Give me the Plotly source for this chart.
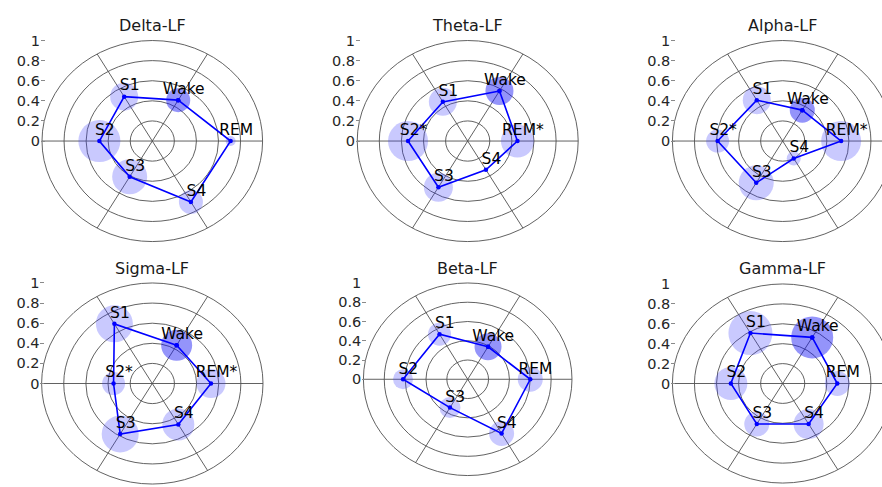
import numpy as np
import plotly.graph_objects as go

# ---------------- data ----------------
bands = ["Delta-LF", "Theta-LF", "Alpha-LF", "Sigma-LF", "Beta-LF", "Gamma-LF"]
stages = ["Wake", "REM", "S4", "S3", "S2", "S1"]
stage_angle_deg = [60, 0, -60, -120, 180, 120]

labels_delta = ["Wake", "REM", "S4", "S3", "S2", "S1"]
labels_theta = ["Wake", "REM*", "S4", "S3", "S2*", "S1"]
labels_alpha = ["Wake", "REM*", "S4", "S3", "S2*", "S1"]
labels_sigma = ["Wake", "REM*", "S4", "S3", "S2*", "S1"]
labels_beta = ["Wake", "REM", "S4", "S3", "S2", "S1"]
labels_gamma = ["Wake", "REM", "S4", "S3", "S2", "S1"]

# normalised radial value per stage (Wake, REM, S4, S3, S2, S1)
r_delta = [0.47, 0.71, 0.70, 0.41, 0.48, 0.51]
r_theta = [0.575, 0.45, 0.33, 0.53, 0.54, 0.45]
r_alpha = [0.355, 0.53, 0.20, 0.48, 0.59, 0.47]
r_sigma = [0.44, 0.53, 0.47, 0.58, 0.35, 0.685]
r_beta = [0.39, 0.60, 0.65, 0.34, 0.62, 0.54]
r_gamma = [0.535, 0.495, 0.47, 0.47, 0.47, 0.585]

# bubble diameter (px) per stage
bub_delta = [24, 10, 24, 35, 42, 28]
bub_theta = [28, 33, 0, 29, 40, 28]
bub_alpha = [25, 40, 14, 35, 23, 28]
bub_sigma = [31, 29, 32, 37, 23, 37]
bub_beta = [27, 25, 25, 21, 20, 23]
bub_gamma = [42, 25, 30, 25, 33, 44]

radii = [r_delta, r_theta, r_alpha, r_sigma, r_beta, r_gamma]
bubbles = [bub_delta, bub_theta, bub_alpha, bub_sigma, bub_beta, bub_gamma]
labels = [labels_delta, labels_theta, labels_alpha, labels_sigma, labels_beta, labels_gamma]

ytick_vals = [0, 0.2, 0.4, 0.6, 0.8, 1]
ytick_text = ["0", "0.2", "0.4", "0.6", "0.8", "1"]
ring_vals = [0.2, 0.4, 0.6, 0.8, 1.0]
spoke_deg = [0, 60, 120]

# ---------------- layout geometry (pixels) ----------------
W, H = 882, 487
# centre x, centre y, px per unit (x), px per unit (y)
geo = [
    (152.3, 136.0, 110.3, 102.0),
    (467.7, 136.0, 110.5, 102.0),
    (782.7, 136.0, 110.3, 102.0),
    (152.3, 382.0, 110.7, 102.0),
    (467.7, 377.7, 104.3, 97.7),
    (782.7, 382.0, 110.3, 101.0),
]
title_y_px = [19, 19, 19, 265, 265, 265]

FONT = "DejaVu Sans"
light = "rgba(60,60,250,0.40)"
dark = "rgba(20,20,245,0.65)"

fig = go.Figure()
shapes = []
annotations = []
ang = np.deg2rad(stage_angle_deg)

for i in range(6):
    cx, cy, ax_, ay_ = geo[i]
    pad = 1.01
    xr1 = min(pad, (W - cx) / ax_)
    xr = [-pad, xr1]
    yr = [-pad, pad]
    xd = [(cx - pad * ax_) / W, min(1.0, (cx + xr1 * ax_) / W)]
    yd = [1 - (cy + pad * ay_) / H, 1 - (cy - pad * ay_) / H]
    sfx = "" if i == 0 else str(i + 1)
    xa, ya = "x" + sfx, "y" + sfx

    fig.layout["xaxis" + sfx] = dict(domain=xd, range=xr, visible=False,
                                     showgrid=False, zeroline=False, fixedrange=True,
                                     anchor=ya)
    fig.layout["yaxis" + sfx] = dict(domain=yd, range=yr, showgrid=False, zeroline=False,
                                     showline=False, ticks="inside", ticklen=4,
                                     tickwidth=1, tickcolor="#8a8a8a",
                                     tickvals=ytick_vals, ticktext=ytick_text,
                                     tickfont=dict(family=FONT, size=14.5, color="#262626"),
                                     anchor=xa, fixedrange=True)

    # rings and spokes
    for rv in ring_vals:
        shapes.append(dict(type="circle", xref=xa, yref=ya, x0=-rv, x1=rv, y0=-rv, y1=rv,
                           line=dict(color="#505050", width=0.9), layer="below"))
    for sd in spoke_deg:
        t = np.deg2rad(sd)
        shapes.append(dict(type="line", xref=xa, yref=ya,
                           x0=-np.cos(t), y0=-np.sin(t), x1=np.cos(t), y1=np.sin(t),
                           line=dict(color="#505050", width=0.9), layer="below"))

    r = np.array(radii[i])
    x = r * np.cos(ang)
    y = r * np.sin(ang)
    colors = [dark] + [light] * 5

    fig.add_trace(go.Scatter(x=x, y=y, mode="markers", xaxis=xa, yaxis=ya,
                             marker=dict(size=bubbles[i], color=colors, line=dict(width=0)),
                             hoverinfo="skip", showlegend=False))
    xc = np.append(x, x[0])
    yc = np.append(y, y[0])
    fig.add_trace(go.Scatter(x=xc, y=yc, mode="lines+markers", xaxis=xa, yaxis=ya,
                             line=dict(color="#0000ff", width=1.6),
                             marker=dict(size=4.5, color="#0000ff"),
                             showlegend=False))
    fig.add_trace(go.Scatter(x=x + 0.05, y=y + 0.1, mode="text", text=labels[i],
                             textposition="middle center", xaxis=xa, yaxis=ya,
                             textfont=dict(family=FONT, size=15.5, color="#000000"),
                             showlegend=False, hoverinfo="skip", cliponaxis=False))

    annotations.append(dict(text=bands[i], x=cx / W, y=1 - title_y_px[i] / H,
                            xref="paper", yref="paper", xanchor="center", yanchor="middle",
                            showarrow=False,
                            font=dict(family=FONT, size=16, color="#1a1a1a")))

fig.update_layout(width=W, height=H, margin=dict(l=0, r=0, t=0, b=0),
                  paper_bgcolor="white", plot_bgcolor="rgba(0,0,0,0)",
                  shapes=shapes, annotations=annotations, showlegend=False,
                  font=dict(family=FONT))

fig.write_html("out.html", config={"displayModeBar": False},
               post_script="document.body.style.margin='0';document.body.style.padding='0';")
